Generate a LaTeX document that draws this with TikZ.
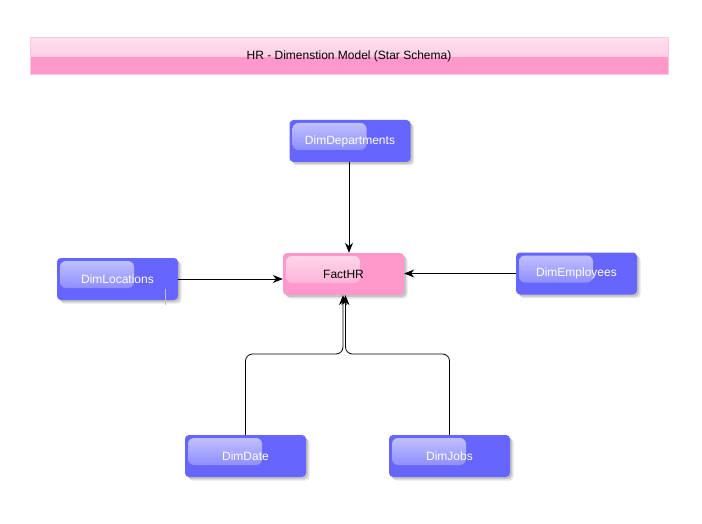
\documentclass[tikz,border=0pt]{standalone}
\usepackage{fontspec}
\setmainfont{Liberation Sans}
\usetikzlibrary{arrows.meta,shadows,calc}
\definecolor{dimblue}{HTML}{6666FF}
\definecolor{factpink}{HTML}{FF99CC}
\definecolor{titleborder}{HTML}{FFC4E1}
\definecolor{titletop}{HTML}{FFE0EF}
\definecolor{titlemid}{HTML}{FFBBDC}
\begin{document}
\begin{tikzpicture}[x=1pt,y=-1pt,
  gloss/.style={path picture={\shade[top color=white!62!#1, bottom color=white!12!#1, rounded corners=6pt]
      ($(path picture bounding box.north west)+(3,3)$) rectangle ++(74,27);}},
  box/.style={rounded corners=4pt, minimum width=121pt, minimum height=42pt, inner sep=0pt,
      font=\fontsize{12}{14}\selectfont,
      preaction={fill=black, opacity=0.10, transform canvas={xshift=3.5pt, yshift=-3.5pt}},
      preaction={fill=black, opacity=0.14, transform canvas={xshift=2pt, yshift=-2pt}}},
  dimbox/.style={box, fill=dimblue, text=white, gloss=dimblue},
  factbox/.style={box, fill=factpink, text=black, gloss=factpink},
  titlebox/.style={minimum width=638pt, minimum height=37pt, inner sep=0pt, fill=factpink,
      draw=titleborder, line width=1pt, font=\fontsize{12}{14}\selectfont,
      path picture={\fill[top color=titletop, bottom color=titlemid]
        (path picture bounding box.north west) rectangle (path picture bounding box.east);}},
  link/.style={black, line width=0.8pt, -{Stealth[length=10pt,width=8pt]}},
  joinlink/.style={link, rounded corners=7pt}]
\useasboundingbox (0,0) rectangle (702,524);
\fill[white] (0,0) rectangle (702,524);

\node[titlebox] (title) at (349,56.5) {HR - Dimenstion Model (Star Schema)};

\node[dimbox] (dep) at (350,141) {DimDepartments};
\node[factbox] (fact) at (343.5,274) {FactHR};
\node[dimbox] (loc) at (117.5,279) {DimLocations};
\node[dimbox] (emp) at (576.5,273.5) {DimEmployees};
\node[dimbox] (date) at (245.5,456) {DimDate};
\node[dimbox] (jobs) at (449.5,456) {DimJobs};

\coordinate (j1) at (343,354);
\coordinate (j2) at (345.5,354);

\draw[link] (dep.south -| 349,0) -- (fact.north -| 349,0);
\draw[link] (loc.east) -- (loc.east -| fact.west);
\draw[link] (emp.west) -- (emp.west -| fact.east);
\draw[joinlink] (date.north) |- (j1) -- (j1 |- fact.south);
\draw[joinlink] (jobs.north) |- (j2) -- (j2 |- fact.south);

\draw[black!25, line width=0.6pt] (165,289) -- (165,305);
\end{tikzpicture}
\end{document}
